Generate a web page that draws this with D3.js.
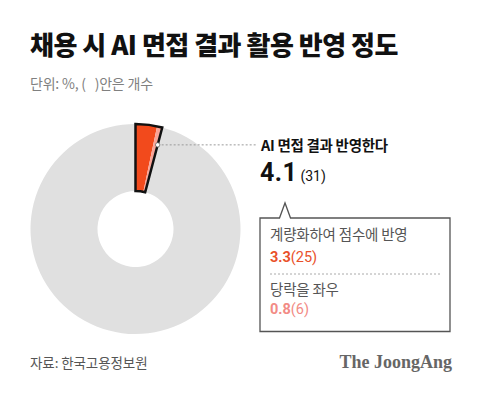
<!DOCTYPE html>
<html><head><meta charset="utf-8">
<script src="https://cdn.jsdelivr.net/npm/d3@7"></script>
<style>
html,body{margin:0;padding:0;background:#fff;}
svg{display:block;font-family:"Noto Sans CJK KR","Noto Sans",sans-serif;}
</style></head>
<body>
<svg id="c" width="480" height="402"></svg>
<script>
const title = "채용 시 AI 면접 결과 활용 반영 정도";
const subtitle = "단위: %, (\u00a0\u00a0\u00a0)안은 개수";
const source = "자료: 한국고용정보원";
const brand = "The JoongAng";
const categories = ["계량화하여 점수에 반영", "당락을 좌우", "기타"];
const values = [3.3, 0.8, 95.9];
const counts = [25, 6, null];
const totalLabel = "AI 면접 결과 반영한다";
const totalValue = 4.1;
const totalCount = 31;

const svg = d3.select("#c");
const W = 480, H = 402;
svg.append("rect").attr("width", W).attr("height", H).attr("fill", "#fff");

svg.append("text").attr("x", 30).attr("y", 55).text(title)
  .attr("font-size", 26).attr("font-weight", 900).attr("fill", "#111").attr("letter-spacing", -0.5);
svg.append("text").attr("x", 30).attr("y", 89).text(subtitle)
  .attr("font-size", 14).attr("fill", "#808080").attr("letter-spacing", -0.2);

const cx = 135.5, cy = 229, rOut = 105, rIn = 38;
const g = svg.append("g").attr("transform", `translate(${cx},${cy})`);
const pie = d3.pie().sort(null).value(d => d).startAngle(0).endAngle(2 * Math.PI);
const arcs = pie(values);
const arc = d3.arc().innerRadius(rIn).outerRadius(rOut);
const colors = ["#f24a1c", "#f9a497", "#e0e0e0"];

g.selectAll("path.slice").data(arcs).join("path").attr("class", "slice")
  .attr("d", arc).attr("fill", (d, i) => colors[i]);

// outline of highlighted group
const hi = { startAngle: arcs[0].startAngle, endAngle: arcs[1].endAngle };
g.append("path").attr("d", arc(hi)).attr("fill", "none")
  .attr("stroke", "#111").attr("stroke-width", 2.5).attr("stroke-linejoin", "miter");

// leader
const a = hi.endAngle, rd = 87;
const px = cx + rd * Math.sin(a), py = cy - rd * Math.cos(a);
svg.append("line").attr("x1", px).attr("y1", py).attr("x2", 256).attr("y2", py)
  .attr("stroke", "#9a9a9a").attr("stroke-width", 1).attr("stroke-dasharray", "2,2");
svg.append("circle").attr("cx", px).attr("cy", py).attr("r", 2.2)
  .attr("fill", "#fff").attr("stroke", "#666").attr("stroke-width", 0.8);

svg.append("text").attr("x", 261).attr("y", 151).text(totalLabel)
  .attr("font-size", 14.5).attr("font-weight", 700).attr("fill", "#111").attr("letter-spacing", -0.3);
const tv = svg.append("text").attr("x", 260).attr("y", 181).attr("fill", "#111");
tv.append("tspan").text(totalValue.toFixed(1)).attr("font-size", 25).attr("font-weight", 700)
  .attr("font-family", "Roboto, 'Noto Sans', sans-serif").attr("letter-spacing", 0.5);
tv.append("tspan").text(`(${totalCount})`).attr("font-size", 14).attr("dx", 3)
  .attr("font-family", "Roboto, 'Noto Sans', sans-serif");

// box with notch
const bx0 = 260, by0 = 218, bx1 = 450, by1 = 331.5;
const nx = 285;
svg.append("path")
  .attr("d", `M${nx - 5.5},${by0} L${bx0},${by0} L${bx0},${by1} L${bx1},${by1} L${bx1},${by0} L${nx + 5.5},${by0} L${nx},${by0 - 15} Z`)
  .attr("fill", "#fff").attr("stroke", "#555").attr("stroke-width", 1.3).attr("stroke-linejoin", "miter");

const detColors = ["#e9512a", "#f28b85"];
const rows = [{ y: 240, vy: 262 }, { y: 295, vy: 314 }];
rows.forEach((r, i) => {
  svg.append("text").attr("x", 270).attr("y", r.y).text(categories[i])
    .attr("font-size", 14.5).attr("fill", "#555").attr("letter-spacing", -0.2);
  const t = svg.append("text").attr("x", 270).attr("y", r.vy).attr("fill", detColors[i])
    .attr("font-family", "Roboto, 'Noto Sans', sans-serif");
  t.append("tspan").text(values[i].toFixed(1)).attr("font-size", 14.5).attr("font-weight", 700);
  t.append("tspan").text(`(${counts[i]})`).attr("font-size", 14.5);
});
svg.append("line").attr("x1", 270).attr("x2", 440).attr("y1", 274).attr("y2", 274)
  .attr("stroke", "#aaa").attr("stroke-width", 1).attr("stroke-dasharray", "2,2");

svg.append("text").attr("x", 30).attr("y", 368).text(source)
  .attr("font-size", 13.5).attr("fill", "#555").attr("letter-spacing", -0.1);
svg.append("text").attr("x", 452).attr("y", 368).attr("text-anchor", "end").text(brand)
  .attr("font-family", "'Liberation Serif', 'DejaVu Serif', serif").attr("font-weight", 700)
  .attr("font-size", 18).attr("fill", "#666");
</script>
</body></html>
